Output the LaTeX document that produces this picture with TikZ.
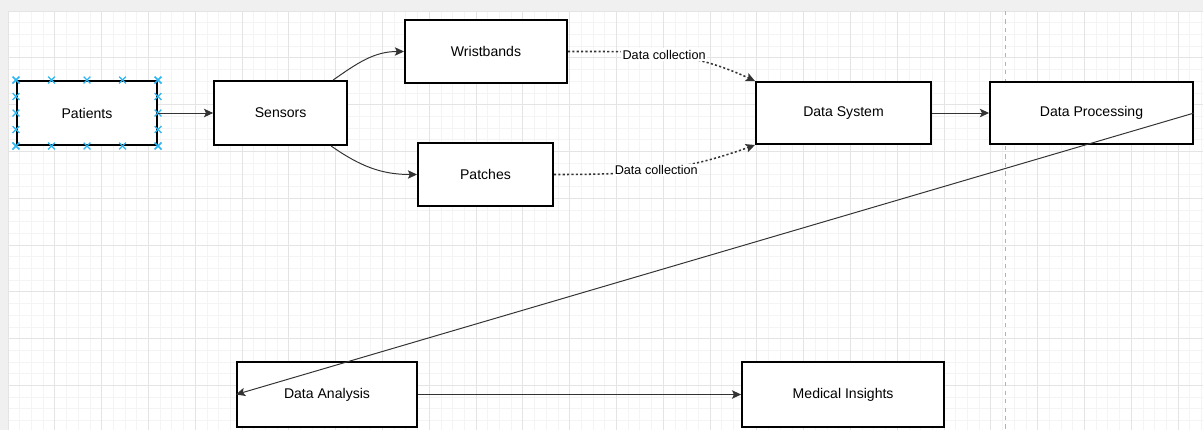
\documentclass[tikz,border=0pt]{standalone}
\usepackage{fontspec}
\setmainfont{Liberation Sans}
\usetikzlibrary{arrows.meta,positioning,calc,shapes.misc}

\definecolor{gridminor}{RGB}{244,244,244}
\definecolor{gridmajor}{RGB}{228,228,228}
\definecolor{handle}{RGB}{41,182,242}

\begin{document}
\begin{tikzpicture}[x=0.025cm, y=-0.025cm, node distance=2cm, thick,
    box/.style={draw, line width=1.4pt, fill=white, minimum height=1.6cm,
        font=\fontsize{10}{12}\selectfont},
    link/.style={draw=black!80, line width=0.7pt,
        -{Stealth[length=6.5pt,width=6pt,inset=1.4pt]}},
    feed/.style={link, dash pattern=on 1.5pt off 1.6pt, line width=1.1pt},
    tag/.style={fill=white, inner sep=1pt, font=\fontsize{9}{11}\selectfont},
    handlemark/.style={draw=handle, cross out, minimum size=4pt, inner sep=0pt,
        line width=0.8pt}]
    \useasboundingbox (0,0) rectangle (1203,430);

    % page background and grid
    \fill[white] (0,0) rectangle (1203,430);
    \fill[black!6] (0,0) rectangle (1203,11);
    \fill[black!6] (0,0) rectangle (8,430);
    \foreach \i in {0,...,102}
        \draw[gridminor, line width=0.5pt] (8+\i*11.7,11) -- (8+\i*11.7,430);
    \foreach \j in {0,...,35}
        \draw[gridminor, line width=0.5pt] (8,11+\j*11.7) -- (1203,11+\j*11.7);
    \foreach \i in {0,4,...,100}
        \draw[gridmajor, line width=0.5pt] (8+\i*11.7,11) -- (8+\i*11.7,430);
    \foreach \j in {0,4,...,32}
        \draw[gridmajor, line width=0.5pt] (8,11+\j*11.7) -- (1203,11+\j*11.7);
    \draw[black!30, dashed, line width=0.7pt] (1005,11) -- (1005,430);

    \node[box, minimum width=3.5cm] (patients) at (87,113) {Patients};
    \node[box, minimum width=3.325cm, right of=patients, node distance=4.84cm] (sensors) {Sensors};
    \node[box, minimum width=4.05cm, minimum height=1.575cm] (wrist) at (486,51.5) {Wristbands};
    \node[box, minimum width=3.375cm, minimum height=1.575cm] (patches) at (485.5,174.5) {Patches};
    \node[box, minimum width=4.375cm, minimum height=1.55cm] (dsys) at (843.5,113) {Data System};
    \node[box, minimum width=5.075cm, minimum height=1.55cm, right of=dsys, node distance=6.2cm] (dproc) {Data Processing};
    \node[box, minimum width=4.5cm, minimum height=1.625cm] (danal) at (327,394.5) {Data Analysis};
    \node[box, minimum width=5.05cm, minimum height=1.625cm, right of=danal, node distance=12.9cm] (insight) {Medical Insights};

    % selection handles
    \foreach \p in {0,0.25,0.5,0.75,1} {
        \node[handlemark] at ($(patients.north west)!\p!(patients.north east)$) {};
        \node[handlemark] at ($(patients.south west)!\p!(patients.south east)$) {};
        \node[handlemark] at ($(patients.north west)!\p!(patients.south west)$) {};
        \node[handlemark] at ($(patients.north east)!\p!(patients.south east)$) {};
    }

    \draw[link] (patients) -- (sensors);
    \draw[link] ([xshift=-0.375cm]sensors.north east) to[out=35, in=180] (wrist.west);
    \draw[link] ([xshift=-0.425cm]sensors.south east) to[out=-35, in=180] (patches.west);
    \draw[feed] (wrist.east) to[out=0, in=155] node[tag, pos=0.5] {Data collection} (dsys.north west);
    \draw[feed] (patches.east) to[out=0, in=200] node[tag, pos=0.5] {Data collection} (dsys.south west);
    \draw[link] (dsys) -- (dproc);
    \draw[link] (dproc.east) -- (danal.west);
    \draw[link] (danal) -- (insight);
\end{tikzpicture}
\end{document}
